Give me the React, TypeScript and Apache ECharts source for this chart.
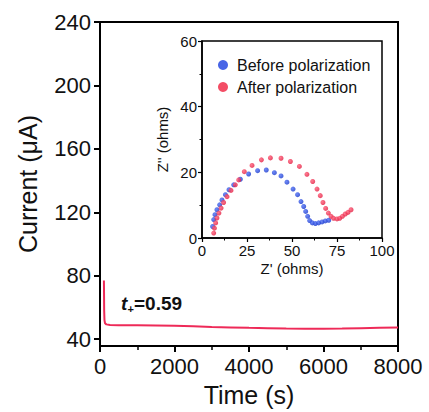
import React, { useEffect, useRef } from "react";
import * as echarts from "echarts";

const timeS = [105, 108, 112, 120, 135, 170, 270, 500, 1000, 1500, 2000, 2500, 3000, 3500, 4000, 4500, 5000, 5500, 6000, 6500, 7000, 7500, 8000];
const currentUA = [77, 70, 58, 52, 50.0, 49.3, 48.9, 48.8, 48.7, 48.6, 48.4, 48.1, 47.7, 47.4, 47.1, 46.9, 46.7, 46.6, 46.6, 46.7, 46.9, 47.1, 47.3];

const mainYTicks = [40, 80, 120, 160, 200, 240];

const beforeZre = [5.9, 6.5, 7.2, 8.3, 9.8, 11.1, 13.0, 15.0, 17.6, 21.3, 25.9, 30.9, 35.7, 40.2, 43.9, 47.2, 50.6, 53.1, 55.0, 56.5, 57.6, 58.7, 59.8, 61.3, 63.0, 64.8, 66.7, 68.5, 70.4];
const beforeZim = [3.5, 5.6, 7.1, 8.6, 10.1, 11.6, 13.2, 14.7, 16.2, 17.9, 19.5, 20.5, 20.7, 19.9, 18.9, 17.0, 14.9, 13.2, 11.1, 9.6, 8.1, 6.6, 5.3, 4.6, 4.4, 4.6, 4.9, 5.2, 5.4];

const afterZre = [6.5, 6.9, 7.6, 8.3, 9.4, 10.6, 12.0, 13.9, 16.1, 18.5, 20.4, 23.5, 27.8, 33.0, 38.0, 43.9, 49.1, 54.1, 58.3, 61.5, 63.9, 65.7, 67.2, 68.7, 70.2, 71.7, 73.1, 75.0, 76.5, 78.0, 79.6, 81.1, 82.8];
const afterZim = [1.5, 3.0, 4.6, 6.1, 7.6, 9.1, 10.8, 12.6, 14.5, 16.2, 17.7, 20.2, 22.1, 23.8, 24.4, 24.3, 23.3, 21.8, 19.4, 17.2, 14.9, 12.9, 10.8, 9.0, 7.6, 6.6, 6.0, 5.8, 6.0, 6.6, 7.3, 7.8, 8.6];

const seriesNames = ["Before polarization", "After polarization"];

const FONT = "'Liberation Sans', Arial, Helvetica, sans-serif";

const blueBall = new echarts.graphic.RadialGradient(0.35, 0.35, 0.75, [
  { offset: 0, color: "#4a6cf5" },
  { offset: 1, color: "#1232c8" },
]);
const redBall = new echarts.graphic.RadialGradient(0.35, 0.35, 0.75, [
  { offset: 0, color: "#ff5a76" },
  { offset: 1, color: "#e0163a" },
]);

export default function App() {
  const ref = useRef<HTMLDivElement>(null);

  useEffect(() => {
    if (!ref.current) return;
    const chart = echarts.init(ref.current, null, { renderer: "svg" });
    const axisLine = { show: true, lineStyle: { color: "#000", width: 2 } };
    const insetLine = { show: true, lineStyle: { color: "#000", width: 1.5 } };
    chart.setOption({
      animation: false,
      backgroundColor: "#fff",
      textStyle: { fontFamily: FONT },
      grid: [
        { left: 100, top: 22, width: 298, height: 326, show: true, borderColor: "#000", borderWidth: 2, backgroundColor: "transparent" },
        { left: 202, top: 41, width: 180, height: 197, show: true, borderColor: "#000", borderWidth: 1.5, backgroundColor: "transparent" },
      ],
      xAxis: [
        {
          type: "value", gridIndex: 0, min: 0, max: 8000, interval: 2000,
          name: "Time (s)", nameLocation: "middle", nameGap: 31,
          nameTextStyle: { fontSize: 25, color: "#111", fontFamily: FONT },
          axisLine,
          axisTick: { show: true, length: 6, lineStyle: { color: "#000", width: 2 } },
          minorTick: { show: true, splitNumber: 2, length: 4, lineStyle: { color: "#000", width: 1.5 } },
          axisLabel: { fontSize: 22, color: "#111", margin: 9, fontFamily: FONT, formatter: (v: number) => String(v) },
          splitLine: { show: false },
        },
        {
          type: "value", gridIndex: 1, min: 0, max: 100, interval: 25,
          name: "Z' (ohms)", nameLocation: "middle", nameGap: 23,
          nameTextStyle: { fontSize: 15, color: "#111", fontFamily: FONT },
          axisLine: insetLine,
          axisTick: { show: true, length: 4, lineStyle: { color: "#000", width: 1.2 } },
          minorTick: { show: true, splitNumber: 2, length: 2.5, lineStyle: { color: "#000", width: 1 } },
          axisLabel: { fontSize: 15, color: "#111", margin: 5, fontFamily: FONT },
          splitLine: { show: false },
        },
      ],
      yAxis: [
        {
          type: "value", gridIndex: 0, min: 35.6, max: 240,
          name: "Current (μA)", nameLocation: "middle", nameGap: 60,
          nameTextStyle: { fontSize: 25, color: "#111", fontFamily: FONT },
          axisLine,
          axisTick: { show: true, length: 6, customValues: mainYTicks, lineStyle: { color: "#000", width: 2 } },
          axisLabel: { fontSize: 22, color: "#111", margin: 9, customValues: mainYTicks, fontFamily: FONT },
          splitLine: { show: false },
        },
        {
          type: "value", gridIndex: 1, min: 0, max: 60, interval: 20,
          name: "Z'' (ohms)", nameLocation: "middle", nameGap: 32,
          nameTextStyle: { fontSize: 15, color: "#111", fontFamily: FONT },
          axisLine: insetLine,
          axisTick: { show: true, length: 4, lineStyle: { color: "#000", width: 1.2 } },
          minorTick: { show: true, splitNumber: 2, length: 2.5, lineStyle: { color: "#000", width: 1 } },
          axisLabel: { fontSize: 15, color: "#111", margin: 5, fontFamily: FONT },
          splitLine: { show: false },
        },
      ],
      legend: {
        orient: "vertical",
        left: 213,
        top: 52,
        itemWidth: 10,
        itemHeight: 10,
        itemGap: 6,
        icon: "circle",
        textStyle: { fontSize: 16, color: "#111", fontFamily: FONT, padding: [0, 0, 0, 4] },
        data: [
          { name: seriesNames[0], itemStyle: { color: "#1a3fe0" } },
          { name: seriesNames[1], itemStyle: { color: "#f0203f" } },
        ],
      },
      graphic: [
        { type: "text", x: 121, y: 303, style: { text: "t", font: `italic bold 19px ${FONT}`, fill: "#111", verticalAlign: "middle" } },
        { type: "text", x: 127.5, y: 309, style: { text: "+", font: `bold 11px ${FONT}`, fill: "#111", verticalAlign: "middle" } },
        { type: "text", x: 134, y: 303, style: { text: "=0.59", font: `bold 19px ${FONT}`, fill: "#111", verticalAlign: "middle" } },
      ],
      series: [
        {
          name: "Current",
          type: "line",
          xAxisIndex: 0, yAxisIndex: 0,
          data: timeS.map((t, i) => [t, currentUA[i]]),
          showSymbol: false,
          smooth: false,
          lineStyle: { color: "#ee2a58", width: 2 },
        },
        {
          name: seriesNames[0],
          type: "scatter",
          xAxisIndex: 1, yAxisIndex: 1,
          data: beforeZre.map((x, i) => [x, beforeZim[i]]),
          symbolSize: 5,
          itemStyle: { color: blueBall },
        },
        {
          name: seriesNames[1],
          type: "scatter",
          xAxisIndex: 1, yAxisIndex: 1,
          data: afterZre.map((x, i) => [x, afterZim[i]]),
          symbolSize: 5,
          itemStyle: { color: redBall },
        },
      ],
    });
    return () => chart.dispose();
  }, []);

  return (
    <div
      ref={ref}
      style={{ position: "absolute", left: 0, top: 0, width: 429, height: 412 }}
    />
  );
}
